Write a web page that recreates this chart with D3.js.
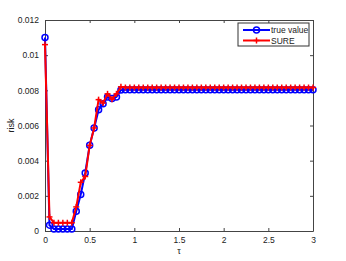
<!DOCTYPE html>
<html>
<head>
<meta charset="utf-8">
<script src="https://cdn.jsdelivr.net/npm/d3@7"></script>
<style>
  body { margin: 0; background: #fff; }
  text { font-family: "Liberation Sans", Arial, sans-serif; }
</style>
</head>
<body>
<svg id="svg_main" width="346" height="261"></svg>
<script>
// tau grid 0:0.05:3
var tau = d3.range(0, 61).map(function(i){ return +(i * 0.05).toFixed(2) })

var trueHead = [0.011, 0.00033, 0.00012, 0.00012, 0.00012, 0.00012, 0.00012, 0.00112, 0.00207, 0.0033,
                0.00487, 0.00586, 0.0069, 0.00723, 0.00762, 0.00753, 0.00762, 0.00802]
var sureHead = [0.0106, 0.0008, 0.00047, 0.00047, 0.00047, 0.00047, 0.00047, 0.00137, 0.00277, 0.0031,
                0.00487, 0.00586, 0.00747, 0.00728, 0.0078, 0.0075, 0.0078, 0.0082]
var trueTail = 0.00803
var sureTail = 0.00816

var trueVals = tau.map(function(t, i){ return i < trueHead.length ? trueHead[i] : trueTail })
var sureVals = tau.map(function(t, i){ return i < sureHead.length ? sureHead[i] : sureTail })

var xTicks = [0, 0.5, 1, 1.5, 2, 2.5, 3]
var yTicks = [0, 0.002, 0.004, 0.006, 0.008, 0.01, 0.012]
var legendNames = ['true value', 'SURE']
var colors = ['#0000ff', '#ff0000']

const margin = { top: 20, right: 33, bottom: 30, left: 45 };
var width = 346 - margin.left - margin.right,
    height = 261 - margin.top - margin.bottom;

var svg = d3.select("#svg_main")
var g = svg.append("g").attr("transform", "translate(" + margin.left + "," + margin.top + ")")

var x = d3.scaleLinear().domain([0, 3]).range([0, width])
var y = d3.scaleLinear().domain([0, 0.012]).range([height, 0])

// axes box with inward ticks
var fmtY = function(d){ return d === 0 ? "0" : String(+d.toFixed(3)) }
var fmtX = function(d){ return String(d) }

var axB = g.append("g").attr("transform", "translate(0," + height + ")")
    .call(d3.axisBottom(x).tickValues(xTicks).tickFormat(fmtX).tickSizeInner(-3).tickSizeOuter(0).tickPadding(6))
var axT = g.append("g")
    .call(d3.axisTop(x).tickValues(xTicks).tickFormat("").tickSizeInner(-3).tickSizeOuter(0))
var axL = g.append("g")
    .call(d3.axisLeft(y).tickValues(yTicks).tickFormat(fmtY).tickSizeInner(-3).tickSizeOuter(0).tickPadding(6))
var axR = g.append("g").attr("transform", "translate(" + width + ",0)")
    .call(d3.axisRight(y).tickValues(yTicks).tickFormat("").tickSizeInner(-3).tickSizeOuter(0))

;[axB, axT, axL, axR].forEach(function(a){
    a.selectAll("path,line").attr("stroke", "#444").attr("stroke-width", 1)
    a.selectAll("text").attr("fill", "#222").style("font-size", "8.5px")
})

// series
var line = d3.line().x(function(d){ return x(d[0]) }).y(function(d){ return y(d[1]) })
var trueData = tau.map(function(t, i){ return [t, trueVals[i]] })
var sureData = tau.map(function(t, i){ return [t, sureVals[i]] })

var clip = g.append("g")

clip.append("path").datum(trueData).attr("d", line)
    .attr("fill", "none").attr("stroke", colors[0]).attr("stroke-width", 2)
clip.selectAll("circle.tv").data(trueData).enter().append("circle")
    .attr("class", "tv")
    .attr("cx", function(d){ return x(d[0]) })
    .attr("cy", function(d){ return y(d[1]) })
    .attr("r", 3)
    .attr("fill", "none").attr("stroke", colors[0]).attr("stroke-width", 1.5)

clip.append("path").datum(sureData).attr("d", line)
    .attr("fill", "none").attr("stroke", colors[1]).attr("stroke-width", 2)
var plus = d3.symbol().type(d3.symbolCross).size(1)
clip.selectAll("g.sr").data(sureData).enter().append("g")
    .attr("class", "sr")
    .attr("transform", function(d){ return "translate(" + x(d[0]) + "," + y(d[1]) + ")" })
    .each(function(){
        d3.select(this).append("line").attr("x1", -3).attr("x2", 3).attr("y1", 0).attr("y2", 0)
            .attr("stroke", colors[1]).attr("stroke-width", 1.5)
        d3.select(this).append("line").attr("x1", 0).attr("x2", 0).attr("y1", -3).attr("y2", 3)
            .attr("stroke", colors[1]).attr("stroke-width", 1.5)
    })

// axis labels
g.append("text").attr("x", width / 2).attr("y", height + 23)
    .attr("text-anchor", "middle").style("font-size", "9px").attr("fill", "#222").text("τ")
g.append("text").attr("transform", "translate(-31," + (height / 2) + ") rotate(-90)")
    .attr("text-anchor", "middle").style("font-size", "9px").attr("fill", "#222").text("risk")

// legend
var lg = svg.append("g").attr("transform", "translate(238,23)")
lg.append("rect").attr("width", 71).attr("height", 23)
    .attr("fill", "#fff").attr("stroke", "#333").attr("stroke-width", 1)
legendNames.forEach(function(name, i){
    var yy = 7 + i * 10.5
    lg.append("line").attr("x1", 5).attr("x2", 32).attr("y1", yy).attr("y2", yy)
        .attr("stroke", colors[i]).attr("stroke-width", 2)
    if (i === 0) {
        lg.append("circle").attr("cx", 18.5).attr("cy", yy).attr("r", 3)
            .attr("fill", "none").attr("stroke", colors[i]).attr("stroke-width", 1.5)
    } else {
        lg.append("line").attr("x1", 15.5).attr("x2", 21.5).attr("y1", yy).attr("y2", yy)
            .attr("stroke", colors[i]).attr("stroke-width", 1.5)
        lg.append("line").attr("x1", 18.5).attr("x2", 18.5).attr("y1", yy - 3).attr("y2", yy + 3)
            .attr("stroke", colors[i]).attr("stroke-width", 1.5)
    }
    lg.append("text").attr("x", 33).attr("y", yy + 3).style("font-size", "8.5px")
        .attr("fill", "#222").text(name)
})
</script>
</body>
</html>
